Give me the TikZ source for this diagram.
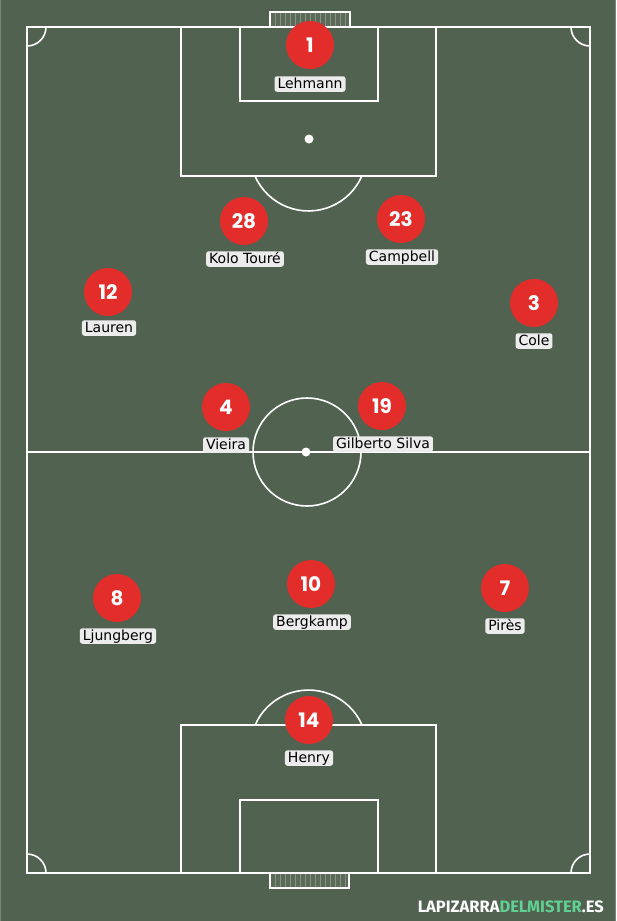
\documentclass[tikz,border=0pt]{standalone}
\usepackage{fontspec}
\setmainfont{DejaVu Sans}
\newfontfamily\numfont{Poppins}
\newfontfamily\markfont{Fira Sans}
\usetikzlibrary{positioning}
\definecolor{grass}{RGB}{82,98,80}
\definecolor{edge}{RGB}{120,134,118}
\definecolor{shirt}{RGB}{226,45,42}
\definecolor{tagbg}{RGB}{236,236,236}
\definecolor{mint}{RGB}{96,208,148}
\definecolor{netline}{RGB}{132,146,130}

\begin{document}
\begin{tikzpicture}[x=1pt,y=-1pt,every node/.style={inner sep=0pt},
  pitch/.style={white,line width=2pt},
  player/.style={circle,fill=shirt,minimum size=48pt,text=white,font=\numfont\bfseries\fontsize{20}{20}\selectfont},
  tag/.style={fill=tagbg,rounded corners=2.5pt,inner xsep=3pt,inner ysep=0.5pt,text height=11.5pt,text depth=3pt,font=\fontsize{14}{14}\selectfont}]
  \fill[grass] (0,0) rectangle (616,921);
  \useasboundingbox (0,0) rectangle (616,921);
  \draw[edge,line width=1pt] (0.5,0)--(0.5,921) (615.5,0)--(615.5,921);
  % nets
  \fill[grass!95!white] (270,12) rectangle (350,27) (270,873) rectangle (349,888);
  \draw[netline,line width=0.6pt,step=5] (270,12) grid (350,27) (270,873) grid (349,888);
  \draw[white,line width=1.2pt] (270,27)--(270,12)--(350,12)--(350,27) (270,873)--(270,888)--(349,888)--(349,873);
  % field
  \draw[pitch] (27,27) rectangle (590,873) (27,452)--(590,452);
  \draw[pitch] (181,27) rectangle (436,176) (240,27) rectangle (378,101);
  \draw[pitch] (181,873) rectangle (436,725) (240,873) rectangle (378,800);
  \draw[pitch,line width=1.6pt] (307,452) circle[radius=54pt];
  \fill[white] (306,452) circle[radius=4.5pt] (309,139) circle[radius=4.5pt];
  \draw[pitch,line width=1.6pt] (255,176) arc[start angle=-156.4,end angle=-23.6,radius=58.3pt];
  \draw[pitch,line width=1.6pt] (362,725) arc[start angle=23.6,end angle=156.4,radius=58.3pt];
  \draw[pitch,line width=1.6pt] (46,27) arc[start angle=0,end angle=-90,radius=19pt]
    (571,27) arc[start angle=180,end angle=270,radius=19pt]
    (46,873) arc[start angle=0,end angle=90,radius=19pt]
    (571,873) arc[start angle=180,end angle=90,radius=19pt];
  % players
  \node[player] (c1) at (310,45) {1};
  \node[tag] (t1) at (310,84) {Lehmann};
  \node[player] (c28) at (244,221) {28};
  \node[tag] (t28) at (245,259) {Kolo Touré};
  \node[player] (c23) at (401,219) {23};
  \node[tag] (t23) at (402,257) {Campbell};
  \node[player] (c12) at (108,292) {12};
  \node[tag] (t12) at (109,328) {Lauren};
  \node[player] (c3) at (534,303) {3};
  \node[tag] (t3) at (534,341) {Cole};
  \node[player] (c4) at (226,407) {4};
  \node[tag] (t4) at (226,445) {Vieira};
  \node[player] (c19) at (382,406) {19};
  \node[tag] (t19) at (383,444) {Gilberto Silva};
  \node[player] (c8) at (117,598) {8};
  \node[tag] (t8) at (118,636) {Ljungberg};
  \node[player] (c10) at (311,584) {10};
  \node[tag] (t10) at (312,622) {Bergkamp};
  \node[player] (c7) at (505,588) {7};
  \node[tag] (t7) at (505,626) {Pirès};
  \node[player] (c14) at (309,720) {14};
  \node[tag] (t14) at (309,758) {Henry};
  \node[anchor=east,text=white,font=\markfont\bfseries\fontsize{16.5}{16.5}\selectfont] (mark) at (604,907)
    {LAPIZARRA\textcolor{mint}{DELMISTER}.ES};
\end{tikzpicture}
\end{document}
